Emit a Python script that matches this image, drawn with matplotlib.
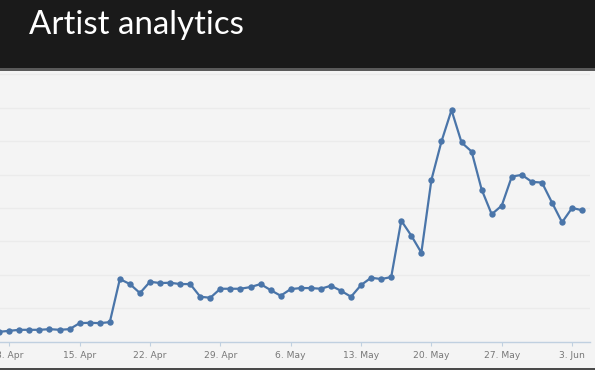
import matplotlib
matplotlib.use("Agg")
import matplotlib.pyplot as plt
from matplotlib.patches import Rectangle
import numpy as np
import pandas as pd

# Daily values, 7 Apr .. 4 Jun
start_date = "2014-04-07"
values = [29, 32, 35, 35, 35, 37, 35, 37,          # 7-14 Apr
          55, 56, 55, 58, 187, 172, 145,            # 15-21 Apr
          179, 175, 176, 172, 172, 134, 131,        # 22-28 Apr
          158, 158, 158, 163, 172, 154, 137,        # 29 Apr - 5 May
          157, 160, 160, 158, 167, 152, 134,        # 6-12 May
          169, 191, 187, 193, 362, 317, 266,        # 13-19 May
          484, 599, 693, 596, 569, 455, 381,        # 20-26 May
          407, 494, 499, 478, 476, 416, 357,        # 27 May - 2 Jun
          400, 393]                                 # 3-4 Jun
tick_labels = ["8. Apr", "15. Apr", "22. Apr", "29. Apr", "6. May",
               "13. May", "20. May", "27. May", "3. Jun"]
title = "Artist analytics"

dates = pd.date_range(start_date, periods=len(values), freq="D")
x = np.arange(len(values))
tick_pos = [1 + 7 * i for i in range(len(tick_labels))]

W, H = 595, 370
fig = plt.figure(figsize=(W / 100, H / 100), dpi=100)
fig.patch.set_facecolor("#f4f4f4")

# header
fig.patches.append(Rectangle((0, (H - 68) / H), 1, 68 / H, transform=fig.transFigure,
                             facecolor="#1a1a1a", edgecolor="none", zorder=0))
fig.patches.append(Rectangle((0, (H - 70.5) / H), 1, 2.5 / H, transform=fig.transFigure,
                             facecolor="#5a5a5a", edgecolor="none", zorder=0))
# bottom strip
fig.patches.append(Rectangle((0, 0), 1, 2.5 / H, transform=fig.transFigure,
                             facecolor="#4a4a4a", edgecolor="none", zorder=0))

fig.text(29 / W, (H - 34.5) / H, title, color="white", fontsize=23.8,
         family=["Lato", "DejaVu Sans"], va="baseline", ha="left")

ax_bottom = (H - 341.5) / H
ax_top = (H - 70.7) / H
ax = fig.add_axes([0, ax_bottom, 590 / W, ax_top - ax_bottom])
ax.set_facecolor("#f4f4f4")
ax.plot(x, values, color="#4a75a9", lw=1.6, marker="o", ms=4.6,
        markeredgewidth=0, clip_on=False, zorder=3)
ax.set_xlim(0.075, 58.78)
ax.set_ylim(0, 811)
ax.set_yticks(np.arange(100, 801, 100))
ax.yaxis.grid(True, color="#ebebeb", lw=1)
ax.set_axisbelow(True)
ax.tick_params(axis="y", left=False, labelleft=False)
ax.set_xticks(tick_pos)
ax.set_xticklabels(tick_labels, fontsize=6.6, color="#777777",
                   family=["DejaVu Sans"])
ax.tick_params(axis="x", length=3, color="#c0d0e0", pad=4)
for s in ["top", "left", "right"]:
    ax.spines[s].set_visible(False)
ax.spines["bottom"].set_color("#c0d0e0")
ax.spines["bottom"].set_linewidth(1)

fig.savefig("out.png", dpi=100, facecolor=fig.get_facecolor())
